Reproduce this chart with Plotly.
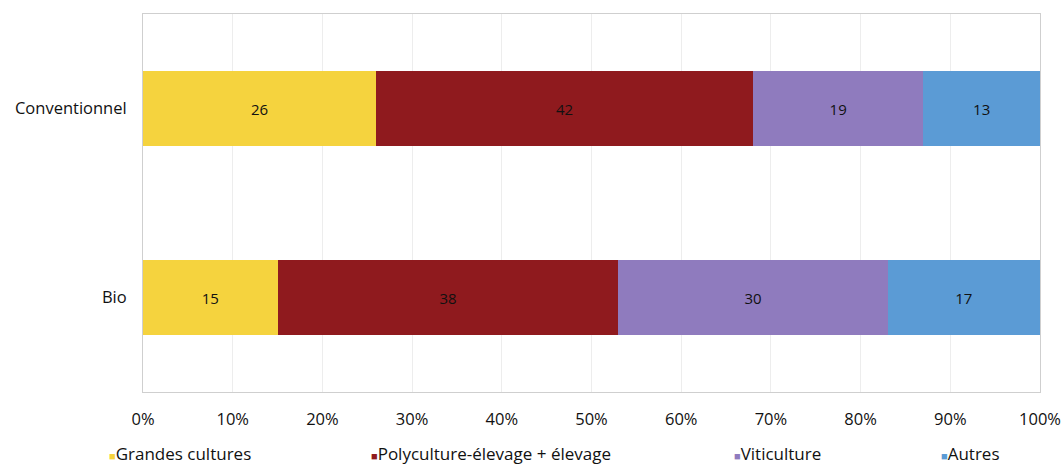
import plotly.graph_objects as go

# Répartition des exploitations par orientation (en %)
categories = ["Conventionnel", "Bio"]
series_names = ["Grandes cultures", "Polyculture-élevage + élevage", "Viticulture", "Autres"]
grandes_cultures = [26, 15]
polyculture_elevage = [42, 38]
viticulture = [19, 30]
autres = [13, 17]
x_ticks = [0, 10, 20, 30, 40, 50, 60, 70, 80, 90, 100]
x_tick_labels = [f"{v}%" for v in x_ticks]

colors = ["#F5D33E", "#8F1A1E", "#8F7BBE", "#5B9BD5"]
values = [grandes_cultures, polyculture_elevage, viticulture, autres]

FONT = "'Open Sans', Lato, sans-serif"
INK = "#111111"

fig = go.Figure()
for name, vals, col in zip(series_names, values, colors):
    fig.add_trace(go.Bar(
        y=categories, x=vals, name=name, orientation="h",
        marker=dict(color=col, line=dict(width=0)),
        text=[str(v) for v in vals], textposition="inside",
        insidetextanchor="middle",
        textfont=dict(family=FONT, size=15, color=INK, weight=500),
        showlegend=False,
    ))

# Légende dessinée sous l'axe
legend_x = [107, 369, 732, 939]
for name, col, lx in zip(series_names, colors, legend_x):
    fig.add_annotation(
        xref="paper", yref="paper",
        x=(lx - 143) / (1040 - 143), y=-0.162,
        xanchor="left", yanchor="middle", showarrow=False,
        text=f"<span style='color:{col};font-size:11px'>■</span>{name}",
        font=dict(family=FONT, size=17, color=INK, weight=500),
    )

fig.update_layout(
    width=1064, height=464,
    margin=dict(l=143, r=24, t=14, b=72),
    barmode="stack", bargap=0.6,
    plot_bgcolor="white", paper_bgcolor="white",
    font=dict(family=FONT, size=17, color=INK),
    xaxis=dict(
        range=[0, 100], tickmode="array", tickvals=x_ticks, ticktext=x_tick_labels,
        showgrid=True, gridcolor="#EDEDED", gridwidth=1,
        showline=True, linecolor="#CFCFCF", mirror=True,
        zeroline=False, ticks="", ticklabelstandoff=12, automargin=False,
        tickfont=dict(family=FONT, size=16.5, color=INK, weight=500),
    ),
    yaxis=dict(
        categoryorder="array", categoryarray=categories,
        autorange="reversed", automargin=False,
        showline=True, linecolor="#CFCFCF", mirror=True,
        showgrid=False, ticks="", ticklabelstandoff=12,
        tickfont=dict(family=FONT, size=16.5, color=INK, weight=500),
    ),
)

fig.write_html("out.html")
